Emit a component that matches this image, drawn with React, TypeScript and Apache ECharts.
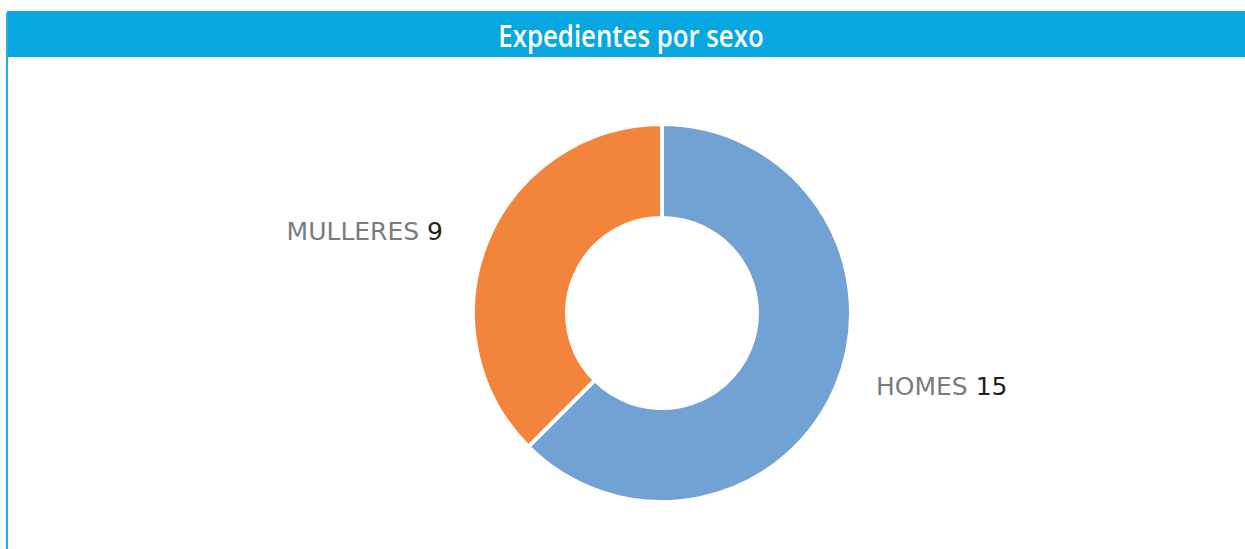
import React, { useEffect, useRef } from "react";
import * as echarts from "echarts";

const titleText = "Expedientes por sexo";
const categories = ["HOMES", "MULLERES"];
const values = [15, 9];
const colors = ["#72A1D4", "#F2843B"];

export default function App() {
  const ref = useRef<HTMLDivElement>(null);
  useEffect(() => {
    const chart = echarts.init(ref.current!, null, { renderer: "svg" });
    const labelPos: Record<string, { x: number; y: number; align: string }> = {
      HOMES: { x: 876, y: 386, align: "left" },
      MULLERES: { x: 443, y: 231, align: "right" },
    };
    chart.setOption({
      animation: false,
      backgroundColor: "#ffffff",
      graphic: [
        {
          type: "rect",
          shape: { x: 7, y: 11, width: 1238, height: 46 },
          style: { fill: "#08A7E0" },
          silent: true,
        },
        {
          type: "rect",
          shape: { x: 6, y: 13, width: 2, height: 536 },
          style: { fill: "#2AADE3" },
          silent: true,
        },
        {
          type: "text",
          x: 631,
          y: 35,
          scaleX: 0.86,
          style: {
            text: titleText,
            fill: "#ffffff",
            font: "600 30px 'Open Sans'",
            align: "center",
            verticalAlign: "middle",
          },
          silent: true,
        },
      ],
      series: [
        {
          type: "pie",
          center: [662, 313],
          radius: [95, 189],
          startAngle: 90,
          clockwise: true,
          itemStyle: { borderColor: "#ffffff", borderWidth: 4 },
          label: {
            show: true,
            position: "outside",
            formatter: "{n|{b} }{v|{c}}",
            rich: {
              n: { fontFamily: "DejaVu Sans", fontSize: 25, color: "#7A7B7E" },
              v: { fontFamily: "DejaVu Sans", fontSize: 25, color: "#231F20" },
            },
          },
          labelLine: { show: false },
          labelLayout: (params: any) => {
            const p = labelPos[categories[params.dataIndex]];
            return { x: p.x, y: p.y, align: p.align, verticalAlign: "middle" };
          },
          emphasis: { disabled: true },
          data: categories.map((c, i) => ({
            name: c,
            value: values[i],
            itemStyle: { color: colors[i] },
          })),
        },
      ],
    });
    return () => chart.dispose();
  }, []);
  return (
    <div
      ref={ref}
      style={{ position: "absolute", left: 0, top: 0, width: 1245, height: 549 }}
    />
  );
}
